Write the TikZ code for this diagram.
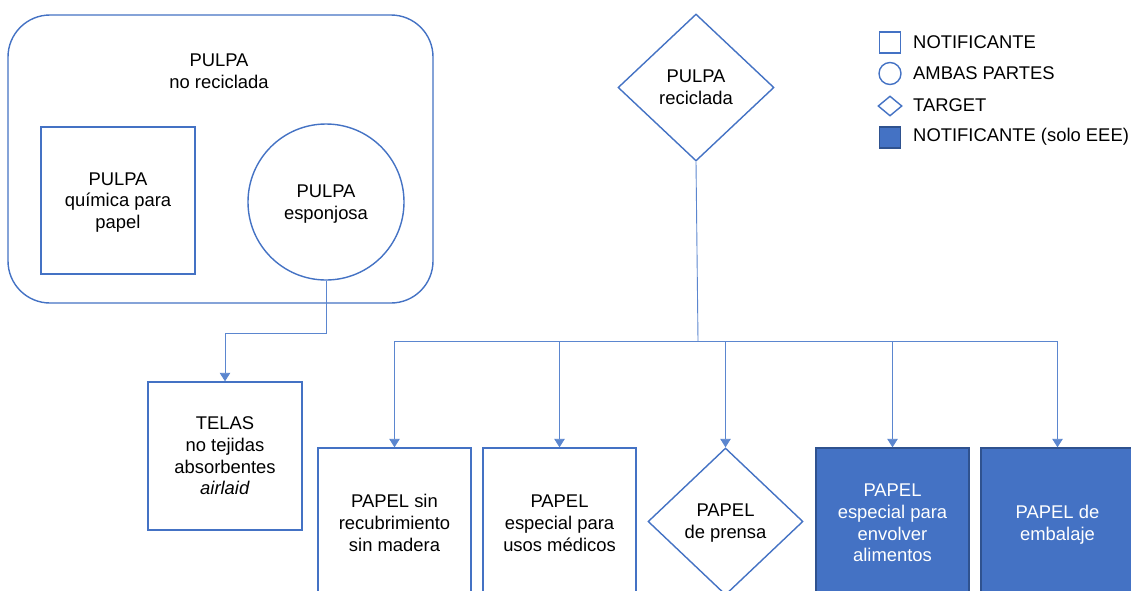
\documentclass[tikz,border=0pt]{standalone}
\usepackage{fontspec}
\setmainfont{Liberation Sans}
\usetikzlibrary{shapes.geometric,arrows.meta}
\definecolor{myblue}{HTML}{4472C4}
\definecolor{darkblue}{HTML}{2F528F}
\definecolor{connblue}{HTML}{5B86CF}
\begin{document}
\begin{tikzpicture}[x=1pt,y=-1pt,
  every node/.style={font=\fontsize{18.4}{21.7}\selectfont, text=black},
  shp/.style={draw=myblue, line width=1.4pt, align=center, inner sep=0pt, text depth=0pt},
  sqbox/.style={shp, rectangle, minimum width=153pt, minimum height=150pt},
  fillbox/.style={sqbox, fill=myblue, draw=darkblue, text=white},
  dia/.style={shp, diamond, minimum width=156pt, minimum height=147pt},
  circ/.style={shp, circle, minimum size=156pt},
  conn/.style={draw=connblue, line width=0.9pt},
  arr/.style={conn, -{Triangle[width=10.5pt,length=8.5pt]}},
  legtext/.style={anchor=west, inner sep=0pt}
]
\useasboundingbox (0,0) rectangle (1131,590);
\clip (0,0) rectangle (1131,590);
\fill[white] (0,0) rectangle (1131,590);

% Non-recycled pulp group
\node[shp, rectangle, rounded corners=42pt, minimum width=425pt, minimum height=288pt] (grp) at (220.5,159) {};
\node[align=center, inner sep=0pt] (grplbl) at (219,71) {PULPA\\no reciclada};
\node[shp, rectangle, minimum width=154pt, minimum height=147pt] (pq) at (118,200.5) {PULPA\\química para\\papel};
\node[circ] (pe) at (326,202) {PULPA\\esponjosa};
\node[shp, rectangle, minimum width=154pt, minimum height=148pt] (telas) at (225,456) {TELAS\\no tejidas\\absorbentes\\\textit{airlaid}};

% Recycled pulp
\node[dia] (pr) at (696,87.5) {PULPA\\reciclada};
\coordinate (hub) at (698,341);

% Paper products
\node[sqbox] (b1) at (394.5,523) {PAPEL sin\\recubrimiento\\sin madera};
\node[sqbox] (b2) at (559.5,523) {PAPEL\\especial para\\usos médicos};
\node[dia, minimum width=155pt] (d2) at (725.5,521.5) {PAPEL\\de prensa};
\node[fillbox] (f1) at (892.5,523) {PAPEL\\especial para\\envolver\\alimentos};
\node[fillbox] (f2) at (1057.5,523) {PAPEL de\\embalaje};

% Connectors
\draw[arr] (pe.south) -- ++(0,53) -| (telas.north);
\draw[conn] (pr.south) -- (hub);
\draw[arr] (hub) -| (b1.north);
\draw[arr] (hub) -| (b2.north);
\draw[arr] (hub) -| (d2.north);
\draw[arr] (hub) -| (f1.north);
\draw[arr] (hub) -| (f2.north);

% Legend
\node[shp, rectangle, minimum size=21pt] (l1) at (890,42.5) {};
\node[shp, circle, minimum size=22pt] (l2) at (890,73.5) {};
\node[shp, diamond, minimum width=24pt, minimum height=20pt] (l3) at (890,106) {};
\node[shp, rectangle, minimum size=21pt, fill=myblue, draw=darkblue] (l4) at (890,137.5) {};
\node[legtext] (t1) at (913,42.5) {NOTIFICANTE};
\node[legtext] (t2) at (913,73.5) {AMBAS PARTES};
\node[legtext] (t3) at (913,105) {TARGET};
\node[legtext] (t4) at (913,137) {NOTIFICANTE (solo EEE)};
\end{tikzpicture}
\end{document}
